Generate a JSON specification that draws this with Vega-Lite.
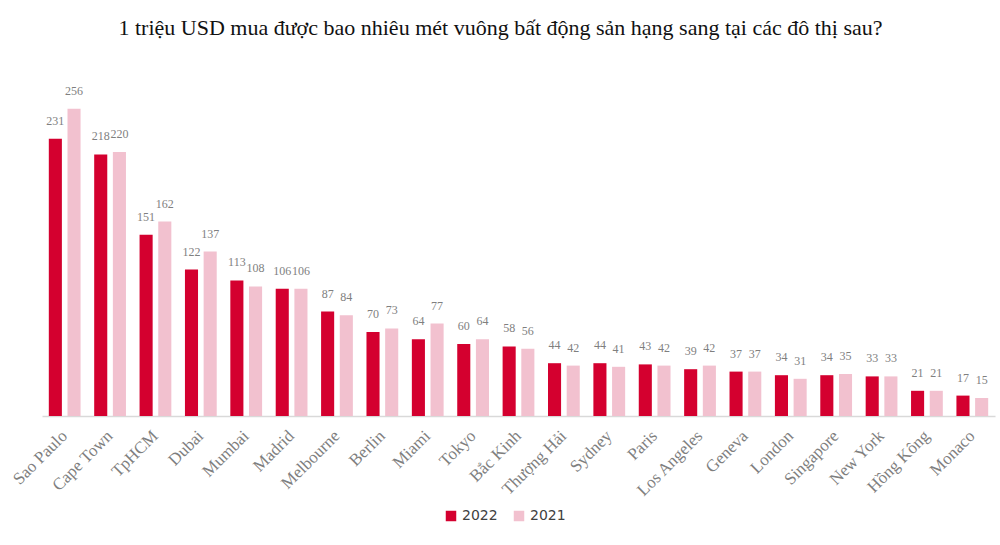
{
  "$schema": "https://vega.github.io/schema/vega-lite/v6.json",
  "width": 953,
  "height": 312,
  "autosize": {"type": "none"},
  "padding": {"left": 42, "top": 104, "right": 5, "bottom": 129},
  "background": "white",
  "view": {"stroke": null},
  "title": {
    "text": "1 triệu USD mua được bao nhiêu mét vuông bất động sản hạng sang tại các đô thị sau?",
    "font": "Liberation Serif",
    "fontSize": 22,
    "fontWeight": "normal",
    "color": "#111111",
    "anchor": "middle",
    "dx": -18,
    "offset": 45
  },
  "data": {
    "values": [
      {"city": "Sao Paulo", "year": "2022", "value": 231},
      {"city": "Sao Paulo", "year": "2021", "value": 256},
      {"city": "Cape Town", "year": "2022", "value": 218},
      {"city": "Cape Town", "year": "2021", "value": 220},
      {"city": "TpHCM", "year": "2022", "value": 151},
      {"city": "TpHCM", "year": "2021", "value": 162},
      {"city": "Dubai", "year": "2022", "value": 122},
      {"city": "Dubai", "year": "2021", "value": 137},
      {"city": "Mumbai", "year": "2022", "value": 113},
      {"city": "Mumbai", "year": "2021", "value": 108},
      {"city": "Madrid", "year": "2022", "value": 106},
      {"city": "Madrid", "year": "2021", "value": 106},
      {"city": "Melbourne", "year": "2022", "value": 87},
      {"city": "Melbourne", "year": "2021", "value": 84},
      {"city": "Berlin", "year": "2022", "value": 70},
      {"city": "Berlin", "year": "2021", "value": 73},
      {"city": "Miami", "year": "2022", "value": 64},
      {"city": "Miami", "year": "2021", "value": 77},
      {"city": "Tokyo", "year": "2022", "value": 60},
      {"city": "Tokyo", "year": "2021", "value": 64},
      {"city": "Bắc Kinh", "year": "2022", "value": 58},
      {"city": "Bắc Kinh", "year": "2021", "value": 56},
      {"city": "Thượng Hải", "year": "2022", "value": 44},
      {"city": "Thượng Hải", "year": "2021", "value": 42},
      {"city": "Sydney", "year": "2022", "value": 44},
      {"city": "Sydney", "year": "2021", "value": 41},
      {"city": "Paris", "year": "2022", "value": 43},
      {"city": "Paris", "year": "2021", "value": 42},
      {"city": "Los Angeles", "year": "2022", "value": 39},
      {"city": "Los Angeles", "year": "2021", "value": 42},
      {"city": "Geneva", "year": "2022", "value": 37},
      {"city": "Geneva", "year": "2021", "value": 37},
      {"city": "London", "year": "2022", "value": 34},
      {"city": "London", "year": "2021", "value": 31},
      {"city": "Singapore", "year": "2022", "value": 34},
      {"city": "Singapore", "year": "2021", "value": 35},
      {"city": "New York", "year": "2022", "value": 33},
      {"city": "New York", "year": "2021", "value": 33},
      {"city": "Hồng Kông", "year": "2022", "value": 21},
      {"city": "Hồng Kông", "year": "2021", "value": 21},
      {"city": "Monaco", "year": "2022", "value": 17},
      {"city": "Monaco", "year": "2021", "value": 15}
    ]
  },
  "encoding": {
    "x": {
      "field": "city",
      "type": "nominal",
      "sort": null,
      "title": null,
      "scale": {"paddingInner": 0.3, "paddingOuter": 0.15},
      "axis": {
        "labelAngle": -45,
        "labelAlign": "right",
        "labelBaseline": "middle",
        "labelFont": "Liberation Serif",
        "labelFontSize": 17,
        "labelColor": "#7f7f7f",
        "labelPadding": 17,
        "ticks": false,
        "domainColor": "#d9d9d9",
        "domainWidth": 1.5,
        "grid": false
      }
    },
    "xOffset": {
      "field": "year",
      "type": "nominal",
      "sort": ["2022", "2021"],
      "scale": {"paddingInner": 0.3, "paddingOuter": 0}
    },
    "y": {
      "field": "value",
      "type": "quantitative",
      "scale": {"domain": [0, 260], "nice": false},
      "axis": null
    }
  },
  "layer": [
    {
      "mark": {"type": "bar"},
      "encoding": {
        "color": {
          "field": "year",
          "type": "nominal",
          "scale": {"domain": ["2022", "2021"], "range": ["#d4002f", "#f2c1cf"]},
          "legend": {
            "title": null,
            "orient": "none",
            "direction": "horizontal",
            "legendX": 402,
            "legendY": 405,
            "symbolType": "square",
            "symbolSize": 110,
            "labelFont": "DejaVu Sans",
            "labelFontSize": 14,
            "labelColor": "#404040",
            "columnPadding": 14,
            "labelOffset": 4
          }
        }
      }
    },
    {
      "mark": {
        "type": "text",
        "dy": -11,
        "font": "Liberation Serif",
        "fontSize": 12,
        "color": "#7f7f7f",
        "baseline": "bottom"
      },
      "encoding": {
        "text": {"field": "value", "type": "quantitative"}
      }
    }
  ]
}
